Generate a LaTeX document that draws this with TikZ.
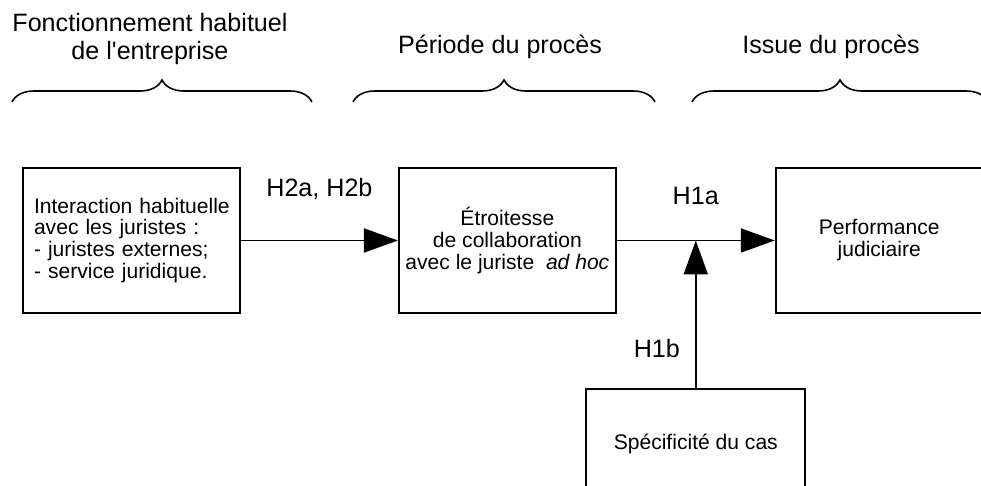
\documentclass[tikz,border=0pt]{standalone}
\usepackage{fontspec}
\setmainfont{Liberation Sans}
\usetikzlibrary{positioning,calc,arrows.meta,decorations.pathreplacing}

\begin{document}
\begin{tikzpicture}[
                    x=0.02cm, y=-0.02cm,
                    line width=1.1pt,
                    node distance=3.14cm,
                    box/.style={
                        rectangle,
                        draw,
                        minimum width=4.34cm,
                        minimum height=2.9cm,
                        inner sep=0pt,
                        font=\fontsize{12}{12.5}\selectfont
                    },
                    head/.style={
                        align=center,
                        font=\fontsize{14.3}{16}\selectfont
                    },
                    hyp/.style={
                        font=\fontsize{14.3}{16}\selectfont
                    },
                    link/.style={
                        -{Triangle[length=0.68cm,width=0.48cm]}
                    },
                    period/.style={
                        decorate,
                        line width=0.9pt,
                        decoration={brace, amplitude=0.44cm}
                    }
                ]

                    \useasboundingbox (0,0) rectangle (981,486);

                    % Periods
                    \node[head] (fonct) at (150,39) {Fonctionnement habituel\\de l\textquotesingle entreprise};
                    \node[head] (periode) at (500,47) {Période du procès};
                    \node[head] (issue) at (831,47) {Issue du procès};
                    \draw[period] (12,102) -- (312,102);
                    \draw[period] (353,102) -- (655,102);
                    \draw[period] (692,102) -- (988,102);

                    % Boxes
                    \node[box, text width=4.1cm, inner xsep=0.12cm, align=left] (inter) at (131.5,240.5)
                        {\hspace*{0.1cm}Interaction habituelle\\\hspace*{0.1cm}avec les juristes :\\\hspace*{0.1cm}- juristes externes;\\\hspace*{0.1cm}- service juridique.};
                    \node[box, align=center] (etroit) [right=of inter]
                        {Étroitesse\\de collaboration\\avec le juriste \ \textit{ad hoc}};
                    \node[box, minimum width=4.14cm, align=center] (perf) [right=3.16cm of etroit]
                        {Performance\\judiciaire};
                    \coordinate (j) at ($(etroit.east)!0.5!(perf.west)$);
                    \node[box, minimum width=4.38cm, minimum height=2.16cm, anchor=north] (cas) [below=2.96cm of j]
                        {Spécificité du cas};

                    % Edges
                    \draw[link] (inter) -- node[hyp, midway, yshift=1.04cm] {H2a, H2b} (etroit);
                    \draw[link] (etroit) -- node[hyp, midway, yshift=0.9cm] {H1a} (perf);
                    \draw[link] (cas) -- node[hyp, pos=0.27, xshift=-0.78cm] {H1b} (j);
                \end{tikzpicture}
\end{document}
